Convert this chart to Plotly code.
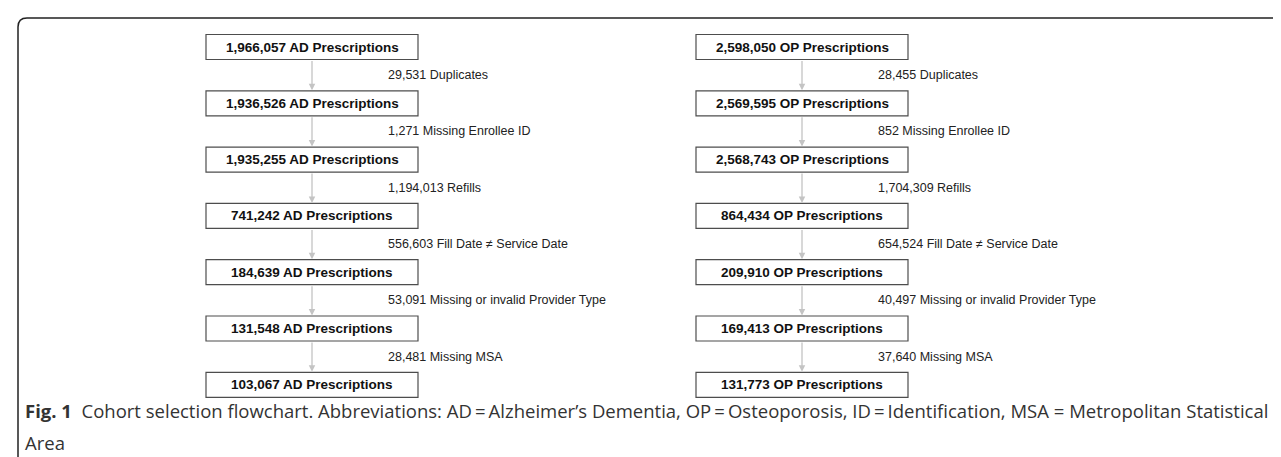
import plotly.graph_objects as go

# ---- data ----
ad_counts = [1966057, 1936526, 1935255, 741242, 184639, 131548, 103067]
op_counts = [2598050, 2569595, 2568743, 864434, 209910, 169413, 131773]
ad_excluded = [29531, 1271, 1194013, 556603, 53091, 28481]
op_excluded = [28455, 852, 1704309, 654524, 40497, 37640]
reasons = ["Duplicates", "Missing Enrollee ID", "Refills", "Fill Date \u2260 Service Date",
           "Missing or invalid Provider Type", "Missing MSA"]
columns = [("AD", ad_counts, ad_excluded), ("OP", op_counts, op_excluded)]
caption_bold = "Fig. 1"
caption_text = ("Cohort selection flowchart. Abbreviations: AD\u2009=\u2009Alzheimer\u2019s Dementia, "
                "OP\u2009=\u2009Osteoporosis, ID\u2009=\u2009Identification, MSA = Metropolitan Statistical")
caption_line2 = "Area"

# ---- layout constants (pixels) ----
W, H = 1281, 457
col_centers = [304, 794]
box_w, box_h = 212, 25
y_first, y_step = 39, 56.3
label_offset = -32

fig = go.Figure()
shapes, annotations = [], []

for (abbr, counts, excluded), cx in zip(columns, col_centers):
    for i, n in enumerate(counts):
        cy = y_first + i * y_step
        shapes.append(dict(type="rect", xref="x", yref="y",
                           x0=cx - box_w / 2, x1=cx + box_w / 2,
                           y0=cy - box_h / 2, y1=cy + box_h / 2,
                           line=dict(color="#4d4d4d", width=1.2), fillcolor="white"))
        annotations.append(dict(x=cx, y=cy, xref="x", yref="y", showarrow=False,
                                text=f"<b>{n:,} {abbr} Prescriptions</b>",
                                font=dict(family="Liberation Sans, Arial", size=13.5, color="#111")))
    for i, e in enumerate(excluded):
        y_top = y_first + i * y_step + box_h / 2
        y_bot = y_first + (i + 1) * y_step - box_h / 2
        annotations.append(dict(x=cx, y=y_bot - 0.5, ax=cx, ay=y_top, xref="x", yref="y",
                                axref="x", ayref="y", showarrow=True, text="",
                                arrowhead=2, arrowsize=1, arrowwidth=1.3, arrowcolor="#c4c4c4"))
        annotations.append(dict(x=cx + box_w / 2 + label_offset, y=(y_top + y_bot) / 2,
                                xref="x", yref="y", showarrow=False, xanchor="left",
                                text=f"{e:,} {reasons[i]}",
                                font=dict(family="Liberation Sans, Arial", size=12.5, color="#222")))

# frame: top and left rules with rounded corner
r = 9
fx, fy = 10, 10
shapes.append(dict(type="path", xref="x", yref="y",
                   path=f"M {W} {fy} L {fx + r} {fy} Q {fx} {fy} {fx} {fy + r} L {fx} {H}",
                   line=dict(color="#222", width=1.5)))

# caption
cap_font = dict(family="Open Sans, Noto Sans", size=18.5, color="#333")
annotations.append(dict(x=15, y=402, xref="x", yref="y", showarrow=False, xanchor="left",
                        text=f"<b>{caption_bold}</b>  {caption_text}", font=cap_font))
annotations.append(dict(x=15, y=434, xref="x", yref="y", showarrow=False, xanchor="left",
                        text=caption_line2, font=cap_font))

fig.update_layout(
    width=W, height=H, margin=dict(l=0, r=0, t=0, b=0),
    paper_bgcolor="white", plot_bgcolor="white",
    xaxis=dict(range=[0, W], visible=False, fixedrange=True),
    yaxis=dict(range=[H, 0], visible=False, fixedrange=True),
    shapes=shapes, annotations=annotations, showlegend=False,
)
fig.write_html("out.html", config={"displayModeBar": False})
